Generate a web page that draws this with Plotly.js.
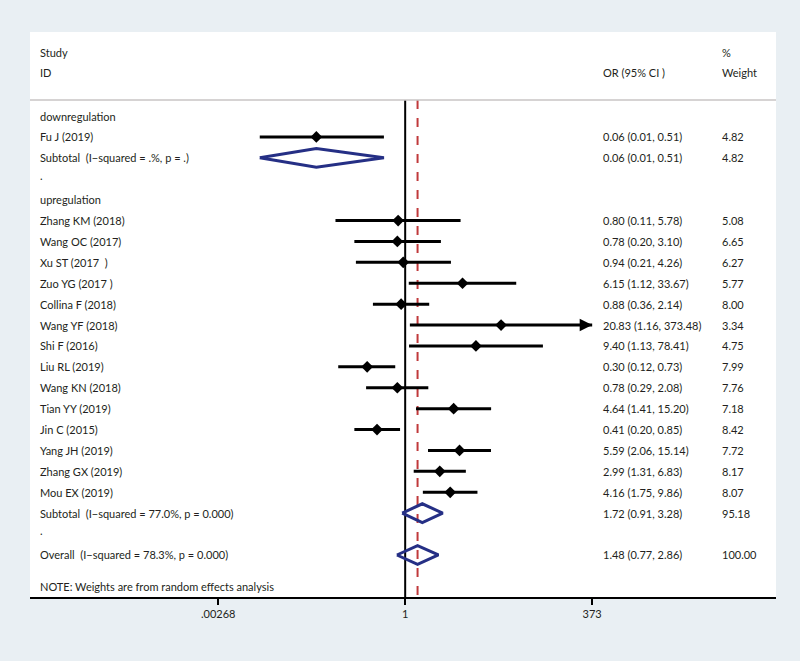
<!DOCTYPE html>
<html>
<head>
<meta charset="utf-8">
<script src="https://cdn.plot.ly/plotly-3.0.1.min.js"></script>
<style>
  body { margin: 0; background: #e9eff3; }
  #forest { width: 800px; height: 661px; }
</style>
</head>
<body>
<div id="forest"></div>
<script>
// study level data
const studies = ['Fu J (2019)', 'Zhang KM (2018)', 'Wang OC (2017)', 'Xu ST (2017  )', 'Zuo YG (2017 )',
    'Collina F (2018)', 'Wang YF (2018)', 'Shi F (2016)', 'Liu RL (2019)', 'Wang KN (2018)',
    'Tian YY (2019)', 'Jin C (2015)', 'Yang JH (2019)', 'Zhang GX (2019)', 'Mou EX (2019)']
const study_or = [0.06, 0.80, 0.78, 0.94, 6.15, 0.88, 20.83, 9.40, 0.30, 0.78, 4.64, 0.41, 5.59, 2.99, 4.16]
const study_lo = [0.01, 0.11, 0.20, 0.21, 1.12, 0.36, 1.16, 1.13, 0.12, 0.29, 1.41, 0.20, 2.06, 1.31, 1.75]
const study_hi = [0.51, 5.78, 3.10, 4.26, 33.67, 2.14, 373.48, 78.41, 0.73, 2.08, 15.20, 0.85, 15.14, 6.83, 9.86]
const study_weight = ['4.82', '5.08', '6.65', '6.27', '5.77', '8.00', '3.34', '4.75', '7.99', '7.76', '7.18', '8.42', '7.72', '8.17', '8.07']
const study_group = ['down', 'up', 'up', 'up', 'up', 'up', 'up', 'up', 'up', 'up', 'up', 'up', 'up', 'up', 'up']

// pooled estimates
const pooled_labels = ['Subtotal  (I\u2212squared = .%, p = .)', 'Subtotal  (I\u2212squared = 77.0%, p = 0.000)', 'Overall  (I\u2212squared = 78.3%, p = 0.000)']
const pooled_or = [0.06, 1.72, 1.48]
const pooled_lo = [0.01, 0.91, 0.77]
const pooled_hi = [0.51, 3.28, 2.86]
const pooled_weight = ['4.82', '95.18', '100.00']

const group_names = { down: 'downregulation', up: 'upregulation' }
const tick_vals = [0.00268, 1, 373]
const tick_text = ['.00268', '1', '373']

const x_max = 373   // CI beyond this gets an arrow
const txt_font = { family: 'Lato, "Open Sans", sans-serif', size: 11, color: '#231f20' }
const navy = '#252f85'

// row layout: one row per line of the table
let rows = []   // {kind, idx}
for (const g of ['down', 'up']) {
    rows.push({ kind: 'group', name: group_names[g] })
    study_group.forEach((sg, i) => { if (sg == g) rows.push({ kind: 'study', idx: i }) })
    rows.push({ kind: 'pooled', idx: g == 'down' ? 0 : 1 })
    rows.push({ kind: 'dot' })
}
rows.push({ kind: 'pooled', idx: 2 })

function fmt(est, lo, hi) {
    return est.toFixed(2) + ' (' + lo.toFixed(2) + ', ' + hi.toFixed(2) + ')'
}

let traces = []
let annotations = []
const col_study = 0.0107, col_or = 0.765, col_w = 0.925

function label(text, xp, y) {
    annotations.push({ xref: 'paper', yref: 'y', x: xp, y: y, text: text, showarrow: false,
        xanchor: 'left', yanchor: 'middle', font: txt_font })
}

// header
label('Study', col_study, -3.02)
label('ID', col_study, -2.06)
label('%', col_w, -3.02)
label('Weight', col_w, -2.06)
label('OR (95% CI )', col_or, -2.06)

let n_rows = rows.length
rows.forEach((r, y) => {
    if (r.kind == 'group') label(r.name, col_study, y)
    else if (r.kind == 'dot') label('.', col_study, y - 0.15)
    else if (r.kind == 'study') {
        let i = r.idx
        label(studies[i], col_study, y)
        label(fmt(study_or[i], study_lo[i], study_hi[i]), col_or, y)
        label(study_weight[i], col_w, y)
        let hi = Math.min(study_hi[i], x_max)
        traces.push({ x: [study_lo[i], hi], y: [y, y], mode: 'lines', type: 'scatter',
            line: { color: 'black', width: 3 }, hoverinfo: 'skip' })
        traces.push({ x: [study_or[i]], y: [y], mode: 'markers', type: 'scatter',
            marker: { symbol: 'diamond', size: 9, color: 'black' }, hoverinfo: 'skip' })
        if (study_hi[i] > x_max) {
            annotations.push({ x: Math.log10(x_max), y: y, xref: 'x', yref: 'y', text: '',
                showarrow: true, ax: -12, ay: 0, arrowhead: 2, arrowsize: 1, arrowwidth: 2.5, arrowcolor: 'black' })
        }
    } else if (r.kind == 'pooled') {
        let i = r.idx
        label(pooled_labels[i], col_study, y)
        label(fmt(pooled_or[i], pooled_lo[i], pooled_hi[i]), col_or, y)
        label(pooled_weight[i], col_w, y)
        let h = 0.45
        traces.push({
            x: [pooled_lo[i], pooled_or[i], pooled_hi[i], pooled_or[i], pooled_lo[i]],
            y: [y, y - h, y, y + h, y], mode: 'lines', type: 'scatter',
            line: { color: navy, width: 3 }, hoverinfo: 'skip'
        })
    }
})
label('NOTE: Weights are from random effects analysis', col_study, n_rows + 0.5)

const y_top = -0.77
const y_bottom = 23.01
// null line and overall estimate line
traces.unshift({ x: [1, 1], y: [y_top, y_bottom], mode: 'lines', type: 'scatter',
    line: { color: 'black', width: 2 }, hoverinfo: 'skip' })
traces.unshift({ x: [pooled_or[2], pooled_or[2]], y: [y_top, y_bottom], mode: 'lines', type: 'scatter',
    line: { color: '#c0393b', width: 2, dash: 'dash' }, hoverinfo: 'skip' })

let layout = {
    width: 800, height: 661,
    margin: { l: 30, r: 24, t: 32, b: 64 },
    paper_bgcolor: '#e9eff3',
    plot_bgcolor: 'white',
    showlegend: false,
    font: txt_font,
    xaxis: {
        type: 'log', range: [-5.16, 5.10],
        tickvals: tick_vals, ticktext: tick_text,
        ticks: 'outside', ticklen: 6, tickwidth: 2, tickcolor: 'black',
        showline: true, linecolor: 'black', linewidth: 2,
        showgrid: false, zeroline: false, fixedrange: true,
        tickfont: { family: txt_font.family, size: 11, color: '#231f20' }
    },
    yaxis: {
        range: [y_bottom, -4.02], visible: false, showgrid: false, zeroline: false, fixedrange: true
    },
    shapes: [
        { type: 'line', xref: 'paper', yref: 'y', x0: 0, x1: 1, y0: y_top, y1: y_top,
            line: { color: '#c9c4c4', width: 1.5 } }
    ],
    annotations: annotations
}

Plotly.newPlot('forest', traces, layout, { displayModeBar: false, responsive: true, staticPlot: true })
</script>
</body>
</html>
